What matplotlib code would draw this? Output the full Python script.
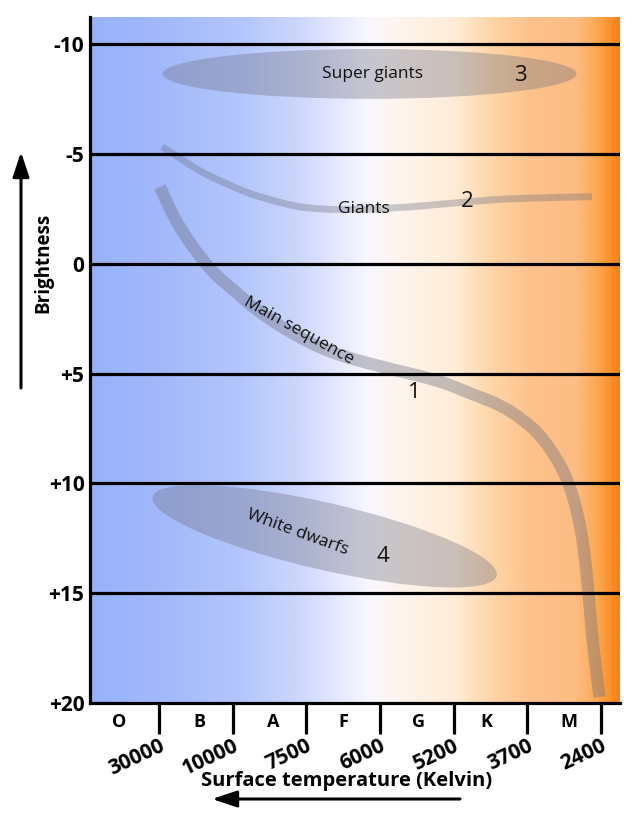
import numpy as np
import matplotlib
matplotlib.use("Agg")
import matplotlib.pyplot as plt
from matplotlib.colors import LinearSegmentedColormap
from matplotlib.patches import Ellipse, FancyArrowPatch, PathPatch
from matplotlib.path import Path
from matplotlib.transforms import ScaledTranslation

# ---------------- data ----------------
spectral_classes = ["O", "B", "A", "F", "G", "K", "M"]
class_pos = [0.46, 1.55, 2.55, 3.51, 4.53, 5.45, 6.57]
temperatures = ["30000", "10000", "7500", "6000", "5200", "3700", "2400"]
temp_pos = [1, 2, 3, 4, 5, 6, 7]
magnitudes = [-10, -5, 0, 5, 10, 15, 20]
mag_labels = ["-10", "-5", "0", "+5", "+10", "+15", "+20"]

main_seq_x = [1.014, 1.149, 1.326, 1.556, 1.787, 2.058, 2.275, 2.778, 3.32, 4.00,
              4.813, 5.26, 5.627, 5.939, 6.17, 6.346, 6.482, 6.577, 6.645, 6.699,
              6.745, 6.792, 6.828, 6.862, 6.893, 6.94, 6.98]
main_seq_y = [-3.5, -2.455, -1.41, -0.318, 0.591, 1.318, 2.0, 3.136, 4.045, 4.682,
              5.32, 5.955, 6.41, 7.09, 7.77, 8.59, 9.36, 10.14, 10.86, 11.64,
              12.41, 13.59, 14.82, 16.18, 17.32, 18.59, 19.73]

giants_x = [1.041, 1.285, 1.516, 1.855, 2.194, 2.506, 2.872, 3.144, 3.415, 4.16,
            5.18, 5.90, 6.88]
giants_y = [-5.318, -4.818, -4.273, -3.727, -3.227, -2.909, -2.591, -2.5, -2.455,
            -2.5, -2.82, -3.0, -3.05]

# super giants region (center x, center mag, width in class units, height in mag)
sg_center = (3.86, -8.64)
sg_size = (5.62, 2.27)
# white dwarfs region (center x, center mag), size in inches, tilt in degrees
wd_center = (3.25, 12.41)
wd_size_in = (3.53, 0.67)
wd_angle = -12.9


def smooth_path(xs, ys):
    """Quadratic B-spline style path: read points act as control points."""
    pts = np.column_stack([xs, ys])
    verts = [pts[0]]
    codes = [Path.MOVETO]
    for i in range(1, len(pts) - 1):
        mid = (pts[i] + pts[i + 1]) / 2
        if i == len(pts) - 2:
            mid = pts[i + 1]
        verts += [pts[i], mid]
        codes += [Path.CURVE3, Path.CURVE3]
    return Path(verts, codes)


# ---------------- figure ----------------
W, H = 640, 821
fig = plt.figure(figsize=(W / 100, H / 100), dpi=100)
ax = fig.add_axes([90 / W, 1 - 703 / H, 530 / W, 686 / H])
ax.set_xlim(0.064, 7.26)
ax.set_ylim(20, -11.23)

FONT = "Open Sans"

# background gradient
stops = [
    (0.000, (152, 178, 250)),
    (0.130, (162, 184, 250)),
    (0.290, (180, 198, 252)),
    (0.395, (205, 215, 252)),
    (0.460, (226, 231, 254)),
    (0.525, (248, 247, 255)),
    (0.590, (255, 244, 236)),
    (0.690, (254, 236, 214)),
    (0.755, (254, 214, 170)),
    (0.830, (253, 195, 140)),
    (0.920, (252, 188, 130)),
    (0.960, (252, 168, 82)),
    (0.985, (250, 145, 40)),
    (1.000, (247, 130, 25)),
]
cmap = LinearSegmentedColormap.from_list(
    "bg", [(p, tuple(c / 255 for c in col)) for p, col in stops])
grad = np.linspace(0, 1, 600).reshape(1, -1)
ax.imshow(grad, cmap=cmap, aspect="auto", extent=[0.064, 7.26, 20, -11.23],
          zorder=0, interpolation="bilinear")

# horizontal magnitude lines
for m in magnitudes[:-1]:
    ax.axhline(m, color="black", lw=2.3, zorder=3)

overlay = (0.43, 0.44, 0.50)
alpha = 0.36

# super giants
ax.add_patch(Ellipse(sg_center, sg_size[0], sg_size[1], facecolor=overlay,
                     alpha=alpha, edgecolor="none", zorder=2))
# white dwarfs
trans = fig.dpi_scale_trans + ScaledTranslation(wd_center[0], wd_center[1], ax.transData)
ax.add_patch(Ellipse((0, 0), wd_size_in[0], wd_size_in[1], angle=wd_angle,
                     facecolor=overlay, alpha=alpha, edgecolor="none",
                     transform=trans, zorder=2))
# main sequence and giants bands
ax.add_patch(PathPatch(smooth_path(main_seq_x, main_seq_y), fill=False,
                       edgecolor=overlay, alpha=alpha + 0.04, lw=8.8,
                       capstyle="butt", joinstyle="round", zorder=2))
ax.add_patch(PathPatch(smooth_path(giants_x, giants_y), fill=False,
                       edgecolor=overlay, alpha=alpha, lw=5.0,
                       capstyle="butt", joinstyle="round", zorder=2))

# labels inside
lab_kw = dict(family=FONT, color="#111111", zorder=4, ha="center", va="center")
ax.text(3.90, -8.64, "Super giants", fontsize=12.5, **lab_kw)
ax.text(5.91, -8.55, "3", fontsize=16, **lab_kw)
ax.text(3.78, -2.5, "Giants", fontsize=12.5, **lab_kw)
ax.text(5.19, -2.85, "2", fontsize=16, **lab_kw)
ax.text(2.90, 3.05, "Main sequence", fontsize=12.5, rotation=-29, **lab_kw)
ax.text(4.47, 5.86, "1", fontsize=16, **lab_kw)
ax.text(2.886, 12.23, "White dwarfs", fontsize=12.5, rotation=-20, **lab_kw)
ax.text(4.04, 13.32, "4", fontsize=16, **lab_kw)

# spines
for s in ["top", "right"]:
    ax.spines[s].set_visible(False)
for s in ["left", "bottom"]:
    ax.spines[s].set_linewidth(2.3)
    ax.spines[s].set_zorder(5)

# y ticks
ax.set_yticks(magnitudes)
ax.set_yticklabels(mag_labels, family=FONT, fontweight="bold", fontsize=15)
ax.tick_params(axis="y", length=0, pad=4)

# x ticks: temperatures (major) and classes (minor)
ax.set_xticks(temp_pos)
ax.set_xticklabels(temperatures, family=FONT, fontweight="bold", fontsize=15,
                   rotation=25, ha="right", va="top", rotation_mode="anchor")
ax.tick_params(axis="x", which="major", length=22.5, width=2.3, direction="out", pad=1.0)
ax.set_xticks(class_pos, minor=True)
ax.set_xticklabels(spectral_classes, minor=True, family=FONT, fontweight="bold",
                   fontsize=13)
ax.tick_params(axis="x", which="minor", length=0, pad=7.5)

# axis titles
fig.text(43 / W, 1 - 263 / H, "Brightness", rotation=90, family=FONT,
         fontweight="bold", fontsize=13.5, ha="center", va="center")
fig.text(347 / W, 1 - 781 / H, "Surface temperature (Kelvin)", family=FONT,
         fontweight="bold", fontsize=14.5, ha="center", va="center")

# arrows
arr_kw = dict(arrowstyle="-|>,head_length=0.75,head_width=0.25", mutation_scale=20,
              color="black", lw=2.2, transform=fig.transFigure, shrinkA=0, shrinkB=0)
fig.patches.append(FancyArrowPatch((21 / W, 1 - 388 / H), (21 / W, 1 - 152 / H), **arr_kw))
fig.patches.append(FancyArrowPatch((460 / W, 1 - 799 / H), (212 / W, 1 - 799 / H), **arr_kw))

fig.savefig("out.png", dpi=100, facecolor="white")
